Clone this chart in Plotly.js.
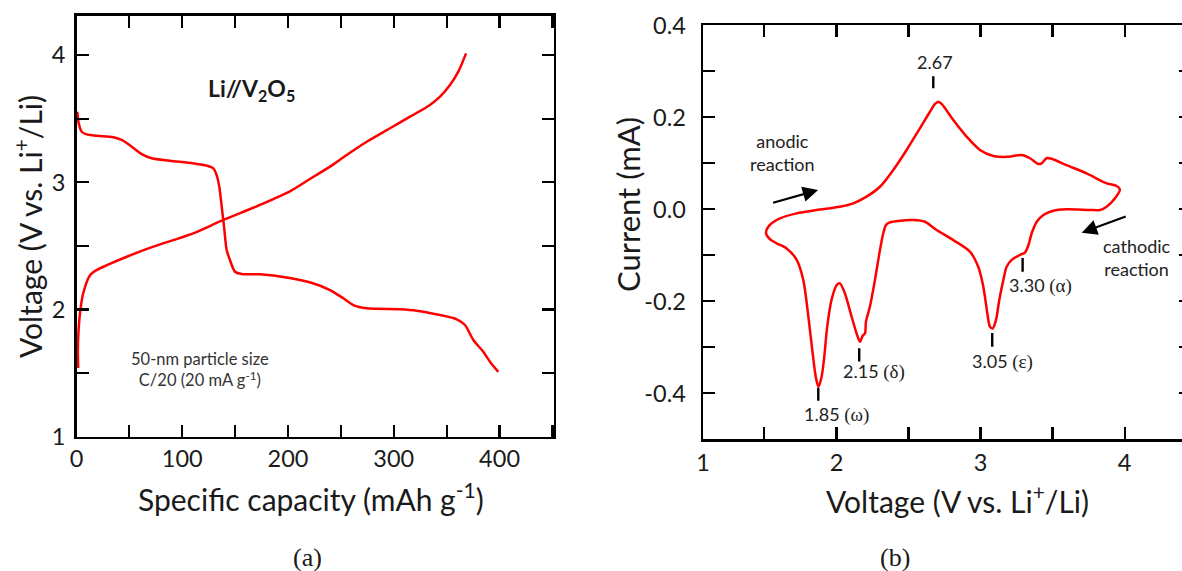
<!DOCTYPE html>
<html>
<head>
<meta charset="utf-8">
<script src="https://cdn.plot.ly/plotly-3.0.1.min.js"></script>
<style>html,body{margin:0;padding:0;background:#fff;}#chart{width:1182px;height:571px;}</style>
</head>
<body>
<div id="chart"></div>
<script>
// ---------- Panel (a): galvanostatic charge / discharge ----------
const capDischarge = [0.8, 2.1, 4.9, 9.6, 19.1, 34.8, 42.7, 52.2, 61.6, 71.1, 88.4, 110.4, 123.1, 129.4, 132.5, 135, 137.3, 139.5, 142, 145.1, 149.9, 156.2, 173.5, 200, 222, 239.7, 252.3, 261.7, 274.4, 305.9, 321.6, 343.7, 359.5, 367.3, 375.2, 384.6, 390.9, 398.8];
const vDischarge   = [3.555, 3.464, 3.398, 3.377, 3.366, 3.354, 3.333, 3.280, 3.222, 3.189, 3.170, 3.149, 3.131, 3.110, 3.057, 2.965, 2.808, 2.651, 2.468, 2.389, 2.297, 2.279, 2.277, 2.25, 2.21, 2.153, 2.088, 2.035, 2.009, 2.002, 1.991, 1.957, 1.923, 1.878, 1.760, 1.668, 1.590, 1.51];
const capCharge = [1.6, 1.3, 1.8, 3.3, 6.4, 12.8, 19.1, 47.5, 72.6, 110.4, 138.8, 173.5, 203, 221, 239.7, 255.5, 274.4, 296.4, 315.3, 334.2, 343.7, 353.1, 361, 368.3];
const vCharge   = [1.54, 1.68, 1.81, 1.97, 2.13, 2.27, 2.31, 2.415, 2.494, 2.599, 2.704, 2.822, 2.935, 3.028, 3.123, 3.215, 3.319, 3.425, 3.516, 3.608, 3.673, 3.765, 3.87, 4.014];
const capTickVals = [0, 100, 200, 300, 400];
const capTickText = ['0', '100', '200', '300', '400'];
const voltTickVals = [1, 2, 3, 4];
const voltTickText = ['1', '2', '3', '4'];

// ---------- Panel (b): cyclic voltammogram ----------
const cvVoltage = [1.511, 1.538, 1.608, 1.724, 1.862, 2.024, 2.117, 2.209, 2.302, 2.394, 2.487, 2.579, 2.649, 2.684, 2.707, 2.730, 2.811, 2.903, 2.996, 3.088, 3.181, 3.285, 3.343, 3.401, 3.424, 3.458, 3.493, 3.597, 3.736, 3.875, 3.944, 3.967,
  3.933, 3.875, 3.829, 3.760, 3.597, 3.505, 3.436, 3.390, 3.355, 3.332, 3.308, 3.274, 3.216, 3.181, 3.158, 3.130, 3.107, 3.084, 3.065, 3.047, 3.019, 2.984, 2.926, 2.811, 2.695, 2.614, 2.533, 2.441, 2.371, 2.344, 2.325, 2.302, 2.267, 2.232, 2.205, 2.198, 2.182, 2.163, 2.140, 2.105, 2.059, 2.024, 2.001, 1.966, 1.936, 1.913, 1.897, 1.876, 1.858, 1.835, 1.805, 1.770, 1.724, 1.654, 1.585, 1.538, 1.511];
const cvCurrent = [-0.0508, -0.034, -0.0196, -0.0088, -0.0015, 0.0057, 0.013, 0.0275, 0.049, 0.0854, 0.129, 0.176, 0.212, 0.229, 0.234, 0.229, 0.194, 0.158, 0.129, 0.116, 0.114, 0.118, 0.111, 0.0985, 0.100, 0.111, 0.110, 0.096, 0.078, 0.0565, 0.0507, 0.0434,
  0.0238, 0.0057, -0.0015, -0.0015, 0, -0.003, -0.0122, -0.027, -0.052, -0.078, -0.094, -0.099, -0.110, -0.125, -0.154, -0.197, -0.241, -0.259, -0.255, -0.226, -0.168, -0.125, -0.092, -0.067, -0.045, -0.027, -0.0233, -0.0247, -0.0283, -0.034, -0.052, -0.0885, -0.154, -0.212, -0.244, -0.270, -0.275, -0.288, -0.270, -0.233, -0.183, -0.161, -0.165, -0.197, -0.255, -0.328, -0.364, -0.386, -0.367, -0.313, -0.233, -0.154, -0.110, -0.085, -0.074, -0.065, -0.0508];
const cvXTickVals = [1.074, 2, 3, 4];
const cvXTickText = ['1', '2', '3', '4'];
const cvYTickVals = [-0.4, -0.2, 0, 0.2, 0.4];
const cvYTickText = ['-0.4', '-0.2', '0.0', '0.2', '0.4'];
const cvYAllTicks = [-0.5, -0.4, -0.3, -0.2, -0.1, 0, 0.1, 0.2, 0.3, 0.4];

// peak markers: position of marker, marker span, and label
const peakX      = [1.874, 2.158, 2.672, 3.081, 3.292];
const peakTickLo = [-0.416, -0.331, 0.263, -0.299, -0.136];
const peakTickHi = [-0.388, -0.302, 0.289, -0.269, -0.106];
const peakLabelNum   = ['1.85', '2.15', '2.67', '3.05', '3.30'];
const peakLabelGreek = ['ω', 'δ', '', 'ε', 'α'];
const peakLabelX = [1.999, 2.260, 2.684, 3.155, 3.418];
const peakLabelY = [-0.447, -0.353, 0.321, -0.331, -0.1646];

const RED = '#ff0000';
const INK = '#1a1a1a';
const FONT = 'Lato, "Open Sans", sans-serif';
const SERIF = '"Liberation Serif", "Times New Roman", serif';

const traces = [
  {x: capDischarge, y: vDischarge, xaxis: 'x', yaxis: 'y', mode: 'lines', line: {color: RED, width: 2.5, shape: 'spline', smoothing: 0.8}, hoverinfo: 'skip'},
  {x: capCharge, y: vCharge, xaxis: 'x', yaxis: 'y', mode: 'lines', line: {color: RED, width: 2.5, shape: 'spline', smoothing: 0.8}, hoverinfo: 'skip'},
  {x: cvVoltage, y: cvCurrent, xaxis: 'x2', yaxis: 'y2', mode: 'lines', line: {color: RED, width: 2.5, shape: 'spline', smoothing: 0.8}, hoverinfo: 'skip'},
  {x: [], y: [], xaxis: 'x2', yaxis: 'y3', mode: 'lines', hoverinfo: 'skip'}
];

const axisBase = {
  showgrid: false, zeroline: false, showline: true, linecolor: '#000', linewidth: 2.4,
  ticks: 'inside', ticklen: 12, tickwidth: 2.2, tickcolor: '#000',
  tickfont: {family: FONT, size: 23.5, color: INK}, tickmode: 'array', fixedrange: true
};
const minorBase = {ticks: 'inside', ticklen: 12, tickwidth: 2.2, tickcolor: '#000', showgrid: false};

const shapes = peakX.map((px, i) => ({
  type: 'line', xref: 'x2', yref: 'y2', x0: px, x1: px, y0: peakTickLo[i], y1: peakTickHi[i],
  line: {color: '#000', width: 2.4}
}));

const annotations = [];
function paperText(text, xpx, ypx, size, angle, family) {
  annotations.push({xref: 'paper', yref: 'paper', x: xpx / 1182, y: (571 - ypx) / 571, xanchor: 'center', yanchor: 'middle',
    text: text, showarrow: false, textangle: angle || 0, font: {family: family || FONT, size: size, color: INK}});
}
paperText('Voltage (V vs. Li<sup>+</sup>/Li)', 28, 227, 30, -90);
paperText('Specific capacity (mAh g<sup>-1</sup>)', 310.5, 497, 30);
paperText('Current (mA)', 628, 205, 31, -90);
paperText('Voltage (V vs. Li<sup>+</sup>/Li)', 957.5, 499, 30);
paperText('(a)', 307.5, 557, 26, 0, SERIF);
paperText('(b)', 895, 557, 26, 0, SERIF);

annotations.push({xref: 'x', yref: 'y', x: 165.6, y: 3.726, text: '<b>Li//V<sub>2</sub>O<sub>5</sub></b>', showarrow: false,
  font: {family: FONT, size: 23, color: INK}});
annotations.push({xref: 'x', yref: 'y', x: 116.8, y: 1.528, text: '50-nm particle size<br>C/20 (20 mA g<sup>-1</sup>)', showarrow: false,
  font: {family: FONT, size: 16.5, color: '#333'}});

annotations.push({xref: 'x2', yref: 'y2', x: 1.627, y: 0.1235, text: 'anodic<br>reaction', showarrow: false,
  font: {family: FONT, size: 18, color: '#222'}});
annotations.push({xref: 'x2', yref: 'y2', x: 4.083, y: -0.1048, text: 'cathodic<br>reaction', showarrow: false,
  font: {family: FONT, size: 18, color: '#222'}});
// arrows
annotations.push({xref: 'x2', yref: 'y2', axref: 'x2', ayref: 'y2', x: 1.873, y: 0.042, ax: 1.550, ay: 0.0133, text: '',
  showarrow: true, arrowhead: 2, arrowsize: 1.4, arrowwidth: 2.2, arrowcolor: '#000'});
annotations.push({xref: 'x2', yref: 'y2', axref: 'x2', ayref: 'y2', x: 3.702, y: -0.0509, ax: 4.018, ay: -0.0146, text: '',
  showarrow: true, arrowhead: 2, arrowsize: 1.4, arrowwidth: 2.2, arrowcolor: '#000'});

peakLabelNum.forEach((num, i) => {
  const greek = peakLabelGreek[i] ? ' <span style="font-family:\'Liberation Serif\',serif;font-size:19px">(' + peakLabelGreek[i] + ')</span>' : '';
  annotations.push({xref: 'x2', yref: 'y2', x: peakLabelX[i], y: peakLabelY[i], text: num + greek, showarrow: false,
    font: {family: FONT, size: 18, color: '#222'}});
});

const layout = {
  width: 1182, height: 571, autosize: false,
  margin: {l: 0, r: 0, t: 0, b: 0, pad: 0},
  paper_bgcolor: '#fff', plot_bgcolor: 'rgba(0,0,0,0)',
  showlegend: false,
  font: {family: FONT, color: INK},
  xaxis: Object.assign({}, axisBase, {domain: [76.5 / 1182, 553.5 / 1182], range: [0, 451], anchor: 'y', mirror: 'ticks',
    tickvals: capTickVals, ticktext: capTickText, ticklabelstandoff: 0, minor: Object.assign({}, minorBase, {tick0: 0, dtick: 50})}),
  yaxis: Object.assign({}, axisBase, {domain: [(571 - 436.7) / 571, (571 - 15.7) / 571], range: [1, 4.31], anchor: 'x', mirror: 'ticks',
    tickvals: voltTickVals, ticktext: voltTickText, ticklabelstandoff: 4, minor: Object.assign({}, minorBase, {tick0: 1, dtick: 0.5})}),
  xaxis2: Object.assign({}, axisBase, {domain: [703 / 1182, 1], range: [1.074, 4.398], anchor: 'y2', mirror: 'ticks',
    tickvals: cvXTickVals, ticktext: cvXTickText, ticklabelstandoff: 1, minor: Object.assign({}, minorBase, {tick0: 0, dtick: 0.5})}),
  yaxis2: Object.assign({}, axisBase, {domain: [(571 - 439.3) / 571, (571 - 25.3) / 571], range: [-0.5, 0.4], anchor: 'x2', mirror: false,
    tickvals: cvYTickVals, ticktext: cvYTickText, ticklabelstandoff: 10, minor: Object.assign({}, minorBase, {tick0: 0, dtick: 0.1})}),
  yaxis3: {domain: [(571 - 439.3) / 571, (571 - 25.3) / 571], range: [-0.5, 0.4], anchor: 'x2', overlaying: 'y2', side: 'right',
    showgrid: false, zeroline: false, showline: false, ticks: 'inside', ticklen: 3, tickwidth: 2.2, tickcolor: '#000',
    showticklabels: false, tickmode: 'array', tickvals: cvYAllTicks, fixedrange: true},
  shapes: shapes,
  annotations: annotations
};

Plotly.newPlot('chart', traces, layout, {displayModeBar: false, staticPlot: true});
</script>
</body>
</html>
